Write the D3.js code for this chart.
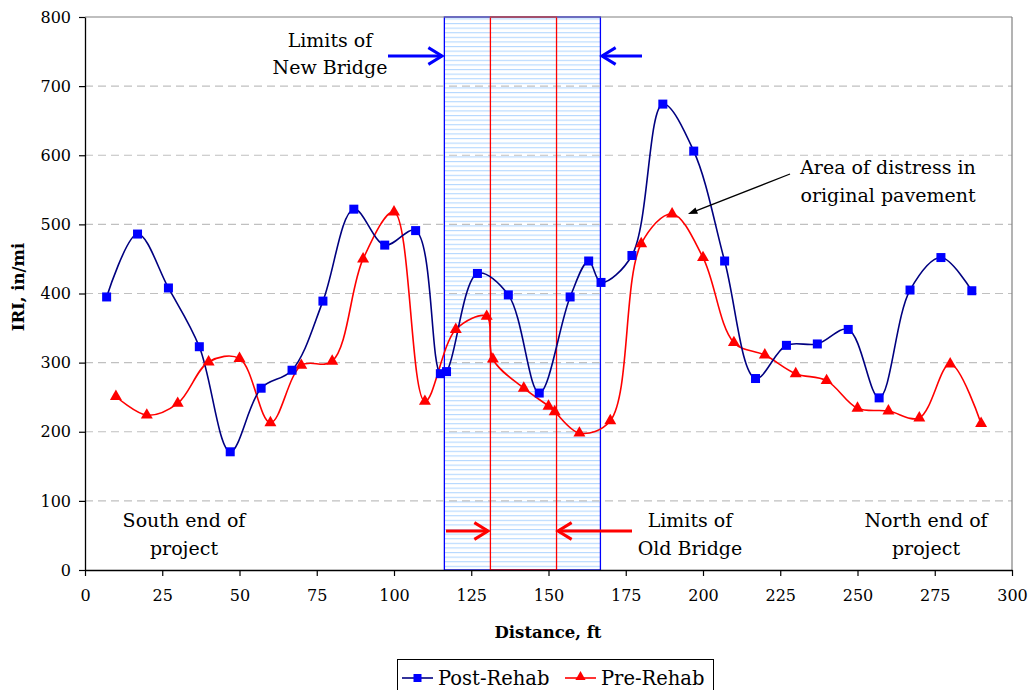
<!DOCTYPE html>
<html><head><meta charset="utf-8">
<script src="https://cdn.jsdelivr.net/npm/d3@7"></script>
<style>body{margin:0;background:#fff}svg{display:block}</style>
</head><body>
<svg id="c" width="1031" height="690"></svg>
<script>
const postX = [7,17,27,37,47,57,67,77,87,97,107,115,117,127,137,147,157,163,167,177,187,197,207,217,227,237,247,257,267,277,287];
const postY = [395,486,408,323,171,263,289,389,522,470,491,284,287,429,398,256,395,447,416,455,674,606,447,277,325,327,348,249,405,452,404];
const preX = [10,20,30,40,50,60,70,80,90,100,110,120,130,132,142,150,152,160,170,180,190,200,210,220,230,240,250,260,270,280,290];
const preY = [251,224,241,301,306,213,296,302,450,518,244,348,367,305,263,237,229,198,216,472,515,452,329,311,284,274,234,230,220,298,212];
const xTicks = [0,25,50,75,100,125,150,175,200,225,250,275,300];
const yTicks = [0,100,200,300,400,500,600,700,800];
const newBridge = [116.3,166.8];
const oldBridge = [131.2,152.6];
const seriesNames = ["Post-Rehab","Pre-Rehab"];

const FONT = "'DejaVu Serif', serif";
const svg = d3.select("#c");
const L=85,R=1012,T=17,B=570;
const x = d3.scaleLinear().domain([0,300]).range([L,R]);
const y = d3.scaleLinear().domain([0,800]).range([B,T]);

const defs = svg.append("defs");
const pat = defs.append("pattern").attr("id","hatch").attr("patternUnits","userSpaceOnUse")
  .attr("width",6).attr("height",4.6);
pat.append("rect").attr("width",6).attr("height",4.6).attr("fill","#ffffff");
pat.append("rect").attr("x",0).attr("y",0).attr("width",6).attr("height",1.1).attr("fill","#b4d8ff");

// new bridge box
svg.append("rect").attr("x",x(newBridge[0])).attr("y",T).attr("width",x(newBridge[1])-x(newBridge[0])).attr("height",B-T)
  .attr("fill","url(#hatch)").attr("stroke","#0000ff").attr("stroke-width",1.3);

// grid
svg.append("g").selectAll("line").data(yTicks.filter(d=>d>0&&d<800)).join("line")
  .attr("x1",L).attr("x2",R).attr("y1",d=>y(d)).attr("y2",d=>y(d))
  .attr("stroke","#c0c0c0").attr("stroke-width",1.2).attr("stroke-dasharray","8,5");

// old bridge box
svg.append("rect").attr("x",x(oldBridge[0])).attr("y",T).attr("width",x(oldBridge[1])-x(oldBridge[0])).attr("height",B-T)
  .attr("fill","none").attr("stroke","#ff0000").attr("stroke-width",1.3);

// frame top/right
svg.append("line").attr("x1",L).attr("x2",R).attr("y1",T).attr("y2",T).attr("stroke","#808080").attr("stroke-width",1.2);
svg.append("line").attr("x1",R).attr("x2",R).attr("y1",T).attr("y2",B).attr("stroke","#808080").attr("stroke-width",1.2);

// axes
const xAxis = svg.append("g").attr("transform",`translate(0,${B})`)
  .call(d3.axisBottom(x).tickValues(xTicks).tickSize(6).tickPadding(14).tickSizeOuter(0));
const yAxis = svg.append("g").attr("transform",`translate(${L},0)`)
  .call(d3.axisLeft(y).tickValues(yTicks).tickSize(6).tickPadding(8).tickSizeOuter(0));
[xAxis,yAxis].forEach(g=>{
  g.selectAll("path").attr("stroke","#000").attr("stroke-width",1.3);
  g.selectAll("line").attr("stroke","#000").attr("stroke-width",1.2);
  g.selectAll("text").attr("font-family",FONT).attr("font-size",16).attr("fill","#000");
});

svg.append("text").attr("x",548).attr("y",638).attr("text-anchor","middle")
  .attr("font-family",FONT).attr("font-weight","bold").attr("font-size",16.5).text("Distance, ft");
svg.append("text").attr("transform","translate(24,287) rotate(-90)").attr("text-anchor","middle")
  .attr("font-family",FONT).attr("font-weight","bold").attr("font-size",16.5).text("IRI, in/mi");

// lines
const line = d3.line().curve(d3.curveCatmullRom.alpha(0.5));
const postPts = postX.map((d,i)=>[x(d),y(postY[i])]);
const prePts = preX.map((d,i)=>[x(d),y(preY[i])]);
svg.append("path").attr("d",line(prePts)).attr("fill","none").attr("stroke","#ff0000").attr("stroke-width",1.6);
svg.append("path").attr("d",line(postPts)).attr("fill","none").attr("stroke","#000080").attr("stroke-width",1.6);

const tri = d3.symbol().type(d3.symbolTriangle).size(62);
svg.append("g").selectAll("path").data(prePts).join("path")
  .attr("transform",d=>`translate(${d[0]},${d[1]})`).attr("d",tri()).attr("fill","#ff0000");
svg.append("g").selectAll("rect").data(postPts).join("rect")
  .attr("x",d=>d[0]-4.5).attr("y",d=>d[1]-4.5).attr("width",9).attr("height",9).attr("fill","#0000ff");

// annotations
function txt(lines,cx,y0,dy,anchor){
  const t = svg.append("text").attr("font-family",FONT).attr("font-size",19).attr("fill","#000").attr("text-anchor",anchor||"middle");
  lines.forEach((s,i)=>t.append("tspan").attr("x",cx).attr("y",y0+i*dy).text(s));
}
txt(["Limits of","New Bridge"],330,47,27);
txt(["South end of","project"],184,527,28);
txt(["North end of","project"],926,527,28);
txt(["Limits of","Old Bridge"],690,527,28);
txt(["Area of distress in","original pavement"],888,174,28);

function arrow(x1,y1,x2,y2,color,w,hl){
  svg.append("line").attr("x1",x1).attr("y1",y1).attr("x2",x2).attr("y2",y2).attr("stroke",color).attr("stroke-width",w);
  const a = Math.atan2(y2-y1,x2-x1);
  const p = (ang)=>[x2 - hl*Math.cos(a+ang), y2 - hl*Math.sin(a+ang)];
  const p1=p(0.55), p2=p(-0.55);
  svg.append("path").attr("d",`M${p1[0]},${p1[1]}L${x2},${y2}L${p2[0]},${p2[1]}`)
    .attr("fill","none").attr("stroke",color).attr("stroke-width",w).attr("stroke-linejoin","miter");
}
arrow(388,56,442,56,"#0000ff",3,16);
arrow(642,56,602,56,"#0000ff",3,16);
arrow(446,531,488,531,"#ff0000",3,16);
arrow(632,531,558,531,"#ff0000",3,16);
// black arrow
(function(){
  const x1=790,y1=174,x2=688,y2=214;
  svg.append("line").attr("x1",x1).attr("y1",y1).attr("x2",x2+6).attr("y2",y2-2.4).attr("stroke","#000").attr("stroke-width",1.3);
  const a=Math.atan2(y2-y1,x2-x1), hl=10;
  const p=(ang)=>[x2-hl*Math.cos(a+ang), y2-hl*Math.sin(a+ang)];
  const p1=p(0.35),p2=p(-0.35);
  svg.append("path").attr("d",`M${p1[0]},${p1[1]}L${x2},${y2}L${p2[0]},${p2[1]}Z`).attr("fill","#000");
})();

// legend
const lg = svg.append("g");
lg.append("rect").attr("x",397.5).attr("y",659.5).attr("width",316).attr("height",40).attr("fill","#fff").attr("stroke","#000").attr("stroke-width",1);
lg.append("line").attr("x1",402).attr("x2",433).attr("y1",678).attr("y2",678).attr("stroke","#000080").attr("stroke-width",1.6);
lg.append("rect").attr("x",413.5).attr("y",674).attr("width",8).attr("height",8).attr("fill","#0000ff");
lg.append("text").attr("x",438).attr("y",685).attr("font-family",FONT).attr("font-size",19.5).text(seriesNames[0]);
lg.append("line").attr("x1",565).attr("x2",596).attr("y1",678).attr("y2",678).attr("stroke","#ff0000").attr("stroke-width",1.6);
lg.append("path").attr("transform","translate(580.5,677)").attr("d",d3.symbol().type(d3.symbolTriangle).size(45)()).attr("fill","#ff0000");
lg.append("text").attr("x",601).attr("y",685).attr("font-family",FONT).attr("font-size",19.5).text(seriesNames[1]);
</script>
</body></html>
